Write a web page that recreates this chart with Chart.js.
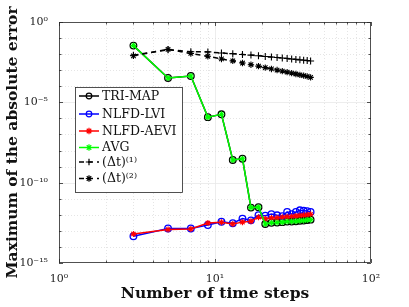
<!DOCTYPE html>
<html>
<head>
<meta charset="utf-8">
<script src="https://cdn.jsdelivr.net/npm/chart.js@4/dist/chart.umd.min.js"></script>
<style>
  html, body { margin: 0; padding: 0; background: #fff; }
  #wrap { width: 409px; height: 307px; }
</style>
</head>
<body>
<div id="wrap"><canvas id="chart"></canvas></div>
<script>
// number of time steps (x axis)
const steps = [3, 5, 7, 9, 11, 13, 15, 17, 19, 21, 23, 25, 27, 29, 31, 33, 35, 37, 39, 41];

// maximum absolute error per method
const triMap = [3.4e-2, 3.3e-4, 4.4e-4, 1.2e-6, 1.8e-6, 2.6e-9, 3.1e-9, 2.8e-12, 3.0e-12, 2.7e-13,
                3.2e-13, 3.3e-13, 3.5e-13, 3.8e-13, 3.8e-13, 4.0e-13, 4.3e-13, 4.4e-13, 4.7e-13, 5.0e-13];
const nlfdLvi = [4.6e-14, 1.4e-13, 1.4e-13, 2.3e-13, 3.7e-13, 3.0e-13, 5.8e-13, 4.5e-13, 9.5e-13, 8.7e-13,
                 1.1e-12, 9.3e-13, 8.3e-13, 1.5e-12, 1.1e-12, 1.5e-12, 1.9e-12, 1.8e-12, 1.7e-12, 1.5e-12];
const nlfdAevi = [6.3e-14, 1.2e-13, 1.3e-13, 3.1e-13, 3.4e-13, 2.7e-13, 3.5e-13, 3.9e-13, 7.1e-13, 5.6e-13,
                  6.3e-13, 6.6e-13, 7.1e-13, 7.6e-13, 7.9e-13, 8.3e-13, 8.9e-13, 9.5e-13, 1.0e-12, 1.07e-12];
const avg = [3.4e-2, 3.3e-4, 4.4e-4, 1.2e-6, 1.8e-6, 2.6e-9, 3.1e-9, 2.8e-12, 3.0e-12, 2.7e-13,
             3.2e-13, 3.3e-13, 3.5e-13, 3.8e-13, 3.8e-13, 4.0e-13, 4.3e-13, 4.4e-13, 4.7e-13, 5.0e-13];
// reference slopes
const dt1 = [8.5e-3, 1.9e-2, 1.4e-2, 1.38e-2, 1.17e-2, 1.07e-2, 9.5e-3, 8.7e-3, 7.9e-3, 7.2e-3,
             6.6e-3, 6.2e-3, 5.8e-3, 5.4e-3, 5.0e-3, 4.7e-3, 4.5e-3, 4.2e-3, 4.0e-3, 3.7e-3];
const dt2 = [7.9e-3, 2.0e-2, 1.1e-2, 7.4e-3, 5.0e-3, 3.8e-3, 2.8e-3, 2.2e-3, 1.8e-3, 1.45e-3,
             1.2e-3, 1.02e-3, 8.7e-4, 7.6e-4, 6.6e-4, 5.8e-4, 5.1e-4, 4.6e-4, 4.1e-4, 3.6e-4];

const xTicks = [1, 10, 100];
const xTickLabels = ['10⁰', '10¹', '10²'];
const yTicks = [1, 1e-5, 1e-10, 1e-15];
const yTickLabels = ['10⁰', '10⁻⁵', '10⁻¹⁰', '10⁻¹⁵'];

const SERIF = '"DejaVu Serif", "Liberation Serif", serif';
const AXIS = '#262626';

function pts(arr) {
  return steps.map((x, i) => ({ x: x, y: arr[i] }));
}

function series(label, arr, color, style, dash, order, radius) {
  return {
    label: label,
    data: pts(arr),
    borderColor: color,
    backgroundColor: 'rgba(0,0,0,0)',
    borderWidth: 1.5,
    borderDash: dash,
    pointStyle: style,
    pointRadius: radius,
    pointBorderColor: color,
    pointBackgroundColor: 'rgba(0,0,0,0)',
    pointBorderWidth: style === 'circle' ? 1.3 : 1.1,
    tension: 0,
    order: order
  };
}

// grid, box and inward ticks, drawn with the chart's own scales
const frame = {
  id: 'frame',
  beforeDatasetsDraw(chart) {
    const { ctx, chartArea: a, scales: { x, y } } = chart;
    ctx.save();
    ctx.lineWidth = 0.8;
    // x grid
    for (let d = 0; d < 2; d++) {
      for (let m = 1; m < 10; m++) {
        const v = m * Math.pow(10, d);
        if (v === 1) continue;
        const px = Math.round(x.getPixelForValue(v)) + 0.5;
        ctx.strokeStyle = m === 1 ? '#e8e8e8' : '#dedede';
        ctx.setLineDash(m === 1 ? [] : [1, 2]);
        ctx.beginPath(); ctx.moveTo(px, a.top); ctx.lineTo(px, a.bottom); ctx.stroke();
      }
    }
    // y grid
    for (let e = -14; e <= -1; e++) {
      const py = Math.round(y.getPixelForValue(Math.pow(10, e))) + 0.5;
      const major = e % 5 === 0;
      ctx.strokeStyle = major ? '#e8e8e8' : '#dedede';
      ctx.setLineDash(major ? [] : [1, 2]);
      ctx.beginPath(); ctx.moveTo(a.left, py); ctx.lineTo(a.right, py); ctx.stroke();
    }
    ctx.restore();
  },
  afterDatasetsDraw(chart) {
    const { ctx, chartArea: a, scales: { x, y } } = chart;
    ctx.save();
    ctx.strokeStyle = AXIS;
    ctx.lineWidth = 0.8;
    ctx.setLineDash([]);
    ctx.strokeRect(a.left + 0.5, a.top + 0.5, a.right - a.left - 1, a.bottom - a.top - 1);
    ctx.beginPath();
    for (let d = 0; d < 3; d++) {
      for (let m = 1; m < 10; m++) {
        const v = m * Math.pow(10, d);
        if (v > 100) break;
        const px = Math.round(x.getPixelForValue(v)) + 0.5;
        const len = m === 1 ? 4 : 2.5;
        ctx.moveTo(px, a.bottom); ctx.lineTo(px, a.bottom - len);
        ctx.moveTo(px, a.top); ctx.lineTo(px, a.top + len);
      }
    }
    for (let e = -15; e <= 0; e++) {
      const py = Math.round(y.getPixelForValue(Math.pow(10, e))) + 0.5;
      const len = e % 5 === 0 ? 4 : 2.5;
      ctx.moveTo(a.left, py); ctx.lineTo(a.left + len, py);
      ctx.moveTo(a.right, py); ctx.lineTo(a.right - len, py);
    }
    ctx.stroke();
    ctx.restore();
  }
};

function marker(ctx, style, cx, cy, r) {
  ctx.beginPath();
  if (style === 'circle') {
    ctx.arc(cx, cy, r, 0, Math.PI * 2);
  } else {
    if (style === 'cross' || style === 'star') {
      ctx.moveTo(cx - r, cy); ctx.lineTo(cx + r, cy);
      ctx.moveTo(cx, cy - r); ctx.lineTo(cx, cy + r);
    }
    if (style === 'crossRot' || style === 'star') {
      const k = r * 0.707;
      ctx.moveTo(cx - k, cy - k); ctx.lineTo(cx + k, cy + k);
      ctx.moveTo(cx - k, cy + k); ctx.lineTo(cx + k, cy - k);
    }
  }
  ctx.stroke();
}

// MATLAB-like boxed legend inside the plot
const boxLegend = {
  id: 'boxLegend',
  afterDraw(chart) {
    const ctx = chart.ctx;
    const bx = 75.5, by = 87.5, bw = 107, bh = 105;
    const rows = [96, 114, 131, 147.5, 162, 178.5];
    ctx.save();
    ctx.fillStyle = '#fff';
    ctx.fillRect(bx, by, bw, bh);
    ctx.strokeStyle = AXIS;
    ctx.lineWidth = 0.8;
    ctx.strokeRect(bx, by, bw, bh);
    chart.data.datasets.forEach((ds, i) => {
      const yy = rows[i];
      ctx.strokeStyle = ds.borderColor;
      ctx.lineWidth = 1.5;
      ctx.setLineDash(ds.borderDash || []);
      ctx.beginPath(); ctx.moveTo(79, yy); ctx.lineTo(99, yy); ctx.stroke();
      ctx.setLineDash([]);
      ctx.lineWidth = 1.2;
      marker(ctx, ds.pointStyle, 89, yy, ds.pointStyle === 'circle' ? 2.8 : 3.2);
      ctx.fillStyle = '#111';
      ctx.font = '12.5px ' + SERIF;
      ctx.textBaseline = 'middle';
      ctx.fillText(ds.label, 102, yy + 0.5);
    });
    ctx.restore();
  }
};

new Chart(document.getElementById('chart'), {
  type: 'line',
  data: {
    datasets: [
      series('TRI-MAP', triMap, '#000000', 'circle', [], 6, 3.3),
      series('NLFD-LVI', nlfdLvi, '#0000ff', 'circle', [], 5, 3.3),
      series('NLFD-AEVI', nlfdAevi, '#ff0000', 'star', [], 4, 3),
      series('AVG', avg, '#00ff00', 'star', [], 3, 3),
      series('(Δt)⁽¹⁾', dt1, '#000000', 'cross', [5, 4], 2, 3.5),
      series('(Δt)⁽²⁾', dt2, '#000000', 'star', [5, 4], 1, 3.2)
    ]
  },
  options: {
    responsive: true,
    maintainAspectRatio: false,
    animation: false,
    layout: { padding: { left: 0, top: 22, right: 38, bottom: 0 } },
    plugins: {
      legend: { display: false },
      tooltip: { enabled: false }
    },
    scales: {
      x: {
        type: 'logarithmic',
        min: 1,
        max: 100,
        grid: { display: false },
        border: { display: false },
        afterBuildTicks(scale) { scale.ticks = xTicks.map(v => ({ value: v })); },
        afterFit(scale) { scale.height = 44; },
        ticks: {
          autoSkip: false,
          maxRotation: 0,
          padding: 2,
          color: AXIS,
          font: { family: SERIF, size: 11 },
          callback: (v) => xTickLabels[xTicks.indexOf(v)]
        },
        title: {
          display: true,
          text: 'Number of time steps',
          color: '#111',
          font: { family: SERIF, size: 15.5, weight: 'bold' },
          padding: { top: 0, bottom: 4 }
        }
      },
      y: {
        type: 'logarithmic',
        min: 1e-15,
        max: 1,
        grid: { display: false },
        border: { display: false },
        afterBuildTicks(scale) { scale.ticks = yTicks.map(v => ({ value: v })); },
        afterFit(scale) { scale.width = 59; },
        ticks: {
          autoSkip: false,
          padding: 3,
          color: AXIS,
          font: { family: SERIF, size: 11 },
          callback: (v) => yTickLabels[yTicks.indexOf(v)]
        },
        title: {
          display: true,
          text: 'Maximum of the absolute error',
          color: '#111',
          font: { family: SERIF, size: 15.5, weight: 'bold' },
          padding: { top: 4, bottom: 0 }
        }
      }
    }
  },
  plugins: [frame, boxLegend]
});
</script>
</body>
</html>
